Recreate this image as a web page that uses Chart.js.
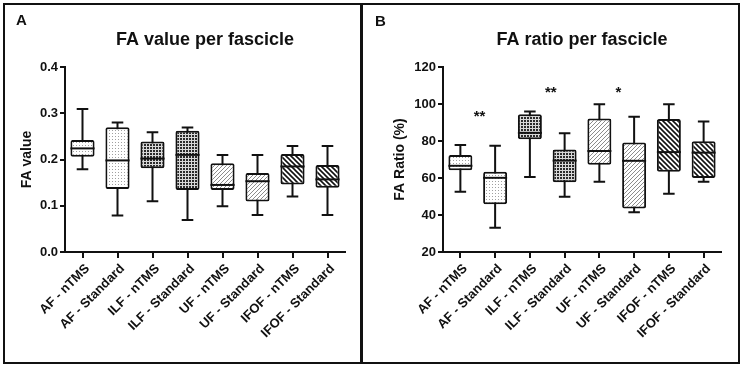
<!DOCTYPE html>
<html lang="en">
<head>
<meta charset="UTF-8">
<title>FA per fascicle</title>
<script src="https://cdn.jsdelivr.net/npm/chart.js"></script>
<style>
  body { margin: 0; background: #fff; }
  #wrap { position: relative; width: 743px; height: 368px; overflow: hidden; background: #fff; }
  #left { position: absolute; left: 0; top: 0; }
  #right { position: absolute; left: 362px; top: 0; }
  .frame { position: absolute; left: 3px; top: 3px; width: 733px; height: 357px; border: 2px solid #111; }
  .divider { position: absolute; left: 360px; top: 3px; width: 3px; height: 361px; background: #111; }
</style>
</head>
<body>
<div id="wrap">
  <canvas id="left" width="362" height="368"></canvas>
  <canvas id="right" width="381" height="368"></canvas>
  <div class="frame"></div>
  <div class="divider"></div>
</div>
<script>
const fascicles = ['AF - nTMS', 'AF - Standard', 'ILF - nTMS', 'ILF - Standard', 'UF - nTMS', 'UF - Standard', 'IFOF - nTMS', 'IFOF - Standard'];

// panel A: FA value
const faMin = [0.179, 0.079, 0.11, 0.069, 0.099, 0.08, 0.12, 0.08];
const faQ1 = [0.206, 0.136, 0.181, 0.134, 0.134, 0.109, 0.146, 0.139];
const faMedian = [0.224, 0.198, 0.202, 0.21, 0.145, 0.153, 0.185, 0.157];
const faQ3 = [0.242, 0.27, 0.239, 0.262, 0.192, 0.171, 0.212, 0.188];
const faMax = [0.309, 0.28, 0.259, 0.269, 0.21, 0.21, 0.229, 0.229];

// panel B: FA ratio (%)
const ratioMin = [52.6, 33.1, 60.5, 49.9, 58, 41.5, 51.5, 58];
const ratioQ1 = [64.2, 45.8, 80.9, 57.7, 67.2, 43.5, 63.4, 60];
const ratioMedian = [66.6, 60.1, 84.4, 69.4, 74.6, 69.3, 74, 73.7];
const ratioQ3 = [72.4, 63.4, 94.5, 75.4, 92.1, 79.2, 91.9, 79.9];
const ratioMax = [77.8, 77.5, 96, 84.2, 99.9, 93.1, 99.9, 90.5];

const sigLabels = ['**', '**', '*'];
const sigAt = [0.55, 2.6, 4.55];
const sigValue = [94.5, 107.5, 107.5];

const INK = '#111';
Chart.defaults.font.family = 'Arial, "Liberation Sans", sans-serif';
Chart.defaults.font.weight = 'bold';
Chart.defaults.color = INK;

function makePattern(kind) {
  const c = document.createElement('canvas');
  const g = c.getContext('2d');
  if (kind === 'dots') {
    c.width = 3; c.height = 3;
    g.fillStyle = '#fff'; g.fillRect(0, 0, 3, 3);
    g.fillStyle = '#a0a0a0'; g.fillRect(1, 1, 1, 1);
  } else if (kind === 'check') {
    c.width = 3; c.height = 3;
    g.fillStyle = '#d8d8d8'; g.fillRect(0, 0, 3, 3);
    g.fillStyle = '#2a2a2a'; g.fillRect(0, 0, 2, 2);
  } else if (kind === 'slash') {
    c.width = 4; c.height = 4;
    g.fillStyle = '#fff'; g.fillRect(0, 0, 4, 4);
    g.strokeStyle = '#8c8c8c'; g.lineWidth = 1;
    g.beginPath();
    g.moveTo(0, 4); g.lineTo(4, 0);
    g.moveTo(-1, 1); g.lineTo(1, -1);
    g.moveTo(3, 5); g.lineTo(5, 3);
    g.stroke();
  } else {
    c.width = 5; c.height = 5;
    g.fillStyle = '#fff'; g.fillRect(0, 0, 5, 5);
    g.strokeStyle = '#111'; g.lineWidth = 1.6;
    g.beginPath();
    g.moveTo(0, 0); g.lineTo(5, 5);
    g.moveTo(-1, 4); g.lineTo(1, 6);
    g.moveTo(4, -1); g.lineTo(6, 1);
    g.stroke();
  }
  return g.createPattern(c, 'repeat');
}
const fills = ['dots', 'dots', 'check', 'check', 'slash', 'slash', 'back', 'back'].map(makePattern);

// whiskers behind the boxes, medians on top
function boxPlot(min, median, max) {
  return {
    id: 'boxPlot',
    beforeDatasetsDraw(chart) {
      const { ctx } = chart;
      const y = chart.scales.y;
      ctx.save();
      ctx.strokeStyle = INK;
      ctx.lineWidth = 2;
      chart.getDatasetMeta(0).data.forEach((bar, i) => {
        const cap = bar.width * 0.24;
        const top = y.getPixelForValue(max[i]);
        const bottom = y.getPixelForValue(min[i]);
        ctx.beginPath();
        ctx.moveTo(bar.x, top); ctx.lineTo(bar.x, bottom);
        ctx.moveTo(bar.x - cap, top); ctx.lineTo(bar.x + cap, top);
        ctx.moveTo(bar.x - cap, bottom); ctx.lineTo(bar.x + cap, bottom);
        ctx.stroke();
      });
      ctx.restore();
    },
    afterDatasetsDraw(chart) {
      const { ctx } = chart;
      const y = chart.scales.y;
      ctx.save();
      ctx.strokeStyle = INK;
      ctx.lineWidth = 2;
      chart.getDatasetMeta(0).data.forEach((bar, i) => {
        const py = y.getPixelForValue(median[i]);
        ctx.beginPath();
        ctx.moveTo(bar.x - bar.width / 2, py); ctx.lineTo(bar.x + bar.width / 2, py);
        ctx.stroke();
      });
      ctx.restore();
    }
  };
}

function panelText(letter, letterX, letterY, title) {
  return {
    id: 'panelText',
    afterDraw(chart) {
      const { ctx, chartArea } = chart;
      ctx.save();
      ctx.fillStyle = INK;
      ctx.font = 'bold 15px Arial, "Liberation Sans", sans-serif';
      ctx.textBaseline = 'top';
      ctx.fillText(letter, letterX, letterY);
      ctx.font = 'bold 18px Arial, "Liberation Sans", sans-serif';
      ctx.textAlign = 'center';
      ctx.textBaseline = 'middle';
      ctx.fillText(title, (chartArea.left + chartArea.right) / 2, 40);
      ctx.restore();
    }
  };
}

const sigMarks = {
  id: 'sigMarks',
  afterDatasetsDraw(chart) {
    const { ctx } = chart;
    ctx.save();
    ctx.fillStyle = INK;
    ctx.font = 'bold 15px Arial, "Liberation Sans", sans-serif';
    ctx.textAlign = 'center';
    ctx.textBaseline = 'middle';
    sigLabels.forEach((s, i) => {
      ctx.fillText(s, chart.scales.x.getPixelForValue(sigAt[i]), chart.scales.y.getPixelForValue(sigValue[i]) + 3);
    });
    ctx.restore();
  }
};

function makeChart(id, q1, q3, yOpts, axisWidth, titleOffset, rightPad, extraPlugins) {
  return new Chart(document.getElementById(id), {
    type: 'bar',
    data: {
      labels: fascicles,
      datasets: [{
        data: fascicles.map((_, i) => [q1[i], q3[i]]),
        backgroundColor: fills,
        borderColor: INK,
        borderWidth: 2,
        borderSkipped: false,
        borderRadius: 2,
        barPercentage: 0.69,
        categoryPercentage: 1
      }]
    },
    options: {
      responsive: false,
      animation: false,
      layout: { padding: { left: 0, right: rightPad, top: 67, bottom: 0 } },
      plugins: { legend: { display: false }, tooltip: { enabled: false }, title: { display: false } },
      scales: {
        x: {
          afterFit(s) { s.height = 116; },
          grid: { offset: false, drawOnChartArea: false, tickLength: 6, color: INK, lineWidth: 2 },
          border: { color: INK, width: 2 },
          ticks: { autoSkip: false, maxRotation: 45, minRotation: 45, padding: 3, labelOffset: 5, font: { size: 13, weight: 'bold' }, color: INK }
        },
        y: Object.assign({
          afterFit(s) { s.width = axisWidth; },
          grid: { drawOnChartArea: false, tickLength: 5, color: INK, lineWidth: 2 },
          border: { color: INK, width: 2 }
        }, yOpts, {
          title: Object.assign({ display: true, font: { size: 14, weight: 'bold' }, color: INK,
            padding: { top: titleOffset, bottom: 0 } }, yOpts.title)
        })
      }
    },
    plugins: extraPlugins
  });
}

makeChart('left', faQ1, faQ3, {
  min: 0, max: 0.4,
  ticks: { stepSize: 0.1, padding: 2, font: { size: 13, weight: 'bold' }, color: INK, callback: v => v.toFixed(1) },
  title: { text: 'FA value' }
}, 65, 19, 17, [boxPlot(faMin, faMedian, faMax), panelText('A', 16, 13, 'FA value per fascicle')]);

makeChart('right', ratioQ1, ratioQ3, {
  min: 20, max: 120,
  ticks: { stepSize: 20, padding: 2, font: { size: 13, weight: 'bold' }, color: INK },
  title: { text: 'FA Ratio (%)' }
}, 81, 30, 22, [boxPlot(ratioMin, ratioMedian, ratioMax), sigMarks, panelText('B', 13, 14, 'FA ratio per fascicle')]);
</script>
</body>
</html>
